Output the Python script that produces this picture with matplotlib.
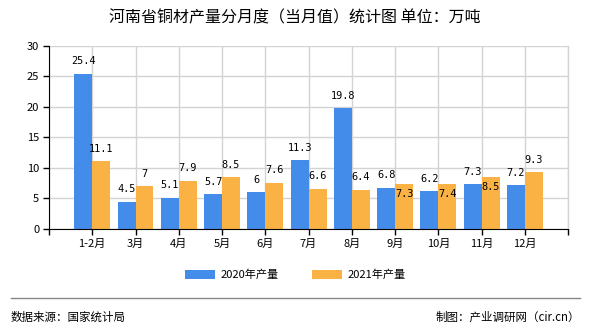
import matplotlib
matplotlib.use("Agg")
import matplotlib.pyplot as plt
import numpy as np

plt.rcParams['font.family'] = ['Noto Sans CJK SC', 'DejaVu Sans']

categories = ["1-2月", "3月", "4月", "5月", "6月", "7月", "8月", "9月", "10月", "11月", "12月"]
prod_2020 = [25.4, 4.5, 5.1, 5.7, 6, 11.3, 19.8, 6.8, 6.2, 7.3, 7.2]
prod_2021 = [11.1, 7, 7.9, 8.5, 7.6, 6.6, 6.4, 7.3, 7.4, 8.5, 9.3]
labels_2020 = ["25.4", "4.5", "5.1", "5.7", "6", "11.3", "19.8", "6.8", "6.2", "7.3", "7.2"]
labels_2021 = ["11.1", "7", "7.9", "8.5", "7.6", "6.6", "6.4", "7.3", "7.4", "8.5", "9.3"]
series_names = ["2020年产量", "2021年产量"]

blue = "#448cea"
orange = "#fbb244"

fig = plt.figure(figsize=(5.9, 3.3), dpi=100)
ax = fig.add_axes([0.083, 0.306, 0.880, 0.555])

x = np.arange(len(categories))
w = 0.415
b1 = ax.bar(x - w / 2, prod_2020, width=w, color=blue, label=series_names[0], zorder=3)
b2 = ax.bar(x + w / 2, prod_2021, width=w, color=orange, label=series_names[1], zorder=3)

ax.set_xlim(-1, len(categories))
ax.set_ylim(0, 30)
ax.set_yticks(range(0, 31, 5))
ax.set_xticks(np.arange(-1, len(categories) + 1))
ax.set_xticklabels([""] + categories + [""])

ax.grid(True, color="#d3d3d3", linewidth=1, zorder=0)
ax.set_axisbelow(True)
ax.axvline(len(categories), color="#d3d3d3", linewidth=1, zorder=0, clip_on=False)
for s in ["top", "right"]:
    ax.spines[s].set_visible(False)
ax.spines["left"].set_color("black")
ax.spines["bottom"].set_color("black")
ax.spines["left"].set_zorder(4)
ax.spines["bottom"].set_zorder(4)
ax.tick_params(axis="both", length=4, width=1, color="black", labelsize=8, pad=3)

mono = ['DejaVu Sans Mono']
for i in range(len(categories)):
    ax.annotate(labels_2020[i], (x[i] - w / 2, prod_2020[i]), xytext=(0, 9),
                textcoords="offset points", ha="center", va="center",
                fontsize=7.4, family=mono, zorder=5)
    d = prod_2021[i] - prod_2020[i]
    dy = -7 if 0 < d < 1.5 else 9
    ax.annotate(labels_2021[i], (x[i] + w / 2, prod_2021[i]), xytext=(0, dy),
                textcoords="offset points", ha="center", va="center",
                fontsize=7.4, family=mono, zorder=5)

fig.text(0.5, 0.945, "河南省铜材产量分月度（当月值）统计图 单位：万吨",
         ha="center", va="center", fontsize=11.5)

leg = fig.legend(handles=[b1, b2], labels=series_names, loc="center",
                 bbox_to_anchor=(0.5, 0.167), ncol=2, frameon=False,
                 fontsize=8, handlelength=2.7, handleheight=0.9,
                 columnspacing=3.0, handletextpad=0.5)

fig.add_artist(plt.Line2D([0.018, 0.983], [0.097, 0.097], transform=fig.transFigure,
                          color="#888888", linewidth=1))
fig.text(0.018, 0.040, "数据来源：国家统计局", ha="left", va="center", fontsize=8.3)
fig.text(0.983, 0.040, "制图：产业调研网（cir.cn）", ha="right", va="center", fontsize=8.3)

fig.savefig("out.png", dpi=100)
